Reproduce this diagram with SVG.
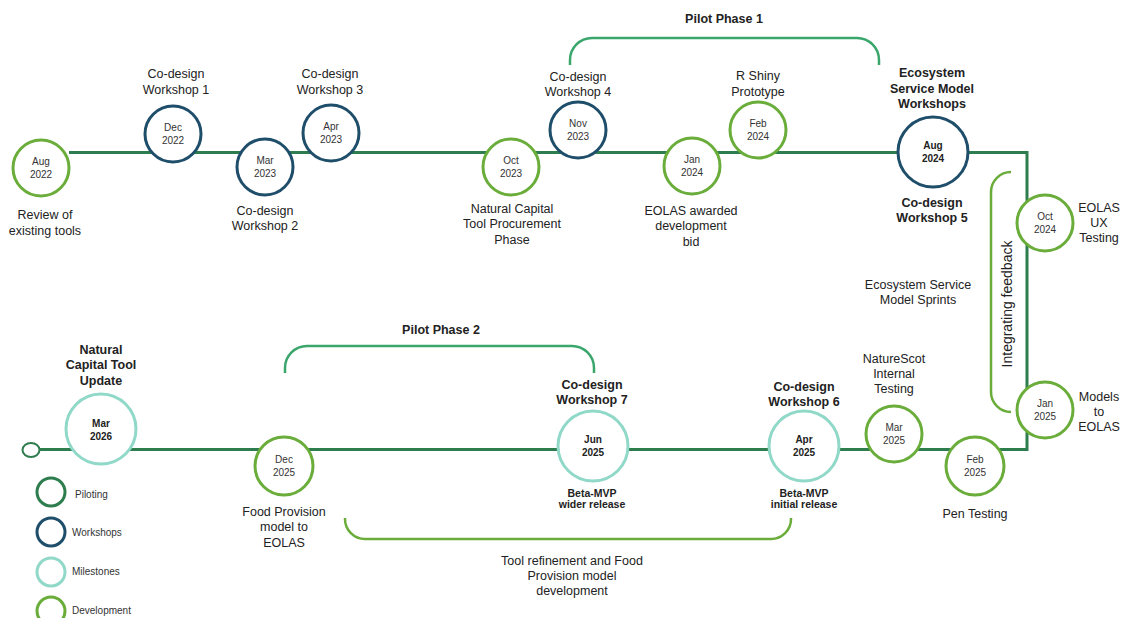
<svg xmlns="http://www.w3.org/2000/svg" width="1126" height="618" viewBox="0 0 1126 618">
  <style>
    text { font-family: "Liberation Sans", Arial, sans-serif; fill: #222; text-anchor: middle; }
    .lbl { font-size: 12.5px; }
    .bl { font-size: 12.5px; font-weight: bold; }
    .date { font-size: 10px; fill: #333; }
    .dateb { font-size: 10px; font-weight: bold; fill: #222; }
    .sub { font-size: 10.5px; font-weight: bold; }
    .leg { font-size: 10px; text-anchor: start; fill: #333; }
    .node { fill: #fff; stroke-width: 3; }
    .dev { stroke: #6aad3a; }
    .ws { stroke: #1f4e6b; }
    .ms { stroke: #90d8c8; }
    .pil { stroke: #2e7d4f; }
    .track { fill: none; stroke: #2e7d4f; stroke-width: 3; }
    .brk-pilot { fill: none; stroke: #3aa66c; stroke-width: 2.5; }
    .brk-dev { fill: none; stroke: #6aad3a; stroke-width: 2.5; }
  </style>

  <!-- timeline track and brackets -->
  <g id="connectors">
    <path class="track" d="M69,152.5 H1027 V449.5 H39"/>
    <path class="brk-pilot" d="M570,65 V60 A22,22 0 0 1 592,38 H857 A22,22 0 0 1 879,60 V65"/>
    <path class="brk-pilot" d="M285,373 V368 A22,22 0 0 1 307,346 H572 A22,22 0 0 1 594,368 V373"/>
    <path class="brk-dev" d="M345,518 V519 A20,20 0 0 0 365,539 H771 A20,20 0 0 0 791,519 V518"/>
    <path class="brk-dev" d="M1011,172 A20,20 0 0 0 991,192 V392 A20,20 0 0 0 1011,412"/>
  </g>

  <g id="start-cap">
    <ellipse cx="31" cy="450" rx="8.5" ry="7" fill="#fff" stroke="#2e7d4f" stroke-width="2"/>
  </g>

  <g id="aug-2022">
    <circle class="node dev" cx="41" cy="168" r="28"/>
    <text class="date" x="41" y="165">Aug</text>
    <text class="date" x="41" y="178">2022</text>
    <text class="lbl" x="45" y="219">Review of</text>
    <text class="lbl" x="45" y="235">existing tools</text>
  </g>

  <g id="dec-2022">
    <circle class="node ws" cx="173" cy="134" r="28"/>
    <text class="date" x="173" y="131">Dec</text>
    <text class="date" x="173" y="144">2022</text>
    <text class="lbl" x="176" y="78">Co-design</text>
    <text class="lbl" x="176" y="94">Workshop 1</text>
  </g>

  <g id="mar-2023">
    <circle class="node ws" cx="265" cy="167" r="28"/>
    <text class="date" x="265" y="164">Mar</text>
    <text class="date" x="265" y="177">2023</text>
    <text class="lbl" x="265" y="215">Co-design</text>
    <text class="lbl" x="265" y="230">Workshop 2</text>
  </g>

  <g id="apr-2023">
    <circle class="node ws" cx="331" cy="133" r="28"/>
    <text class="date" x="331" y="130">Apr</text>
    <text class="date" x="331" y="143">2023</text>
    <text class="lbl" x="330" y="78">Co-design</text>
    <text class="lbl" x="330" y="94">Workshop 3</text>
  </g>

  <g id="oct-2023">
    <circle class="node dev" cx="511" cy="167" r="28"/>
    <text class="date" x="511" y="164">Oct</text>
    <text class="date" x="511" y="177">2023</text>
    <text class="lbl" x="512" y="213">Natural Capital</text>
    <text class="lbl" x="512" y="228">Tool Procurement</text>
    <text class="lbl" x="512" y="244">Phase</text>
  </g>

  <g id="nov-2023">
    <circle class="node ws" cx="578" cy="130" r="28"/>
    <text class="date" x="578" y="127">Nov</text>
    <text class="date" x="578" y="140">2023</text>
    <text class="lbl" x="578" y="81">Co-design</text>
    <text class="lbl" x="578" y="96">Workshop 4</text>
  </g>

  <g id="jan-2024">
    <circle class="node dev" cx="692" cy="166" r="28"/>
    <text class="date" x="692" y="163">Jan</text>
    <text class="date" x="692" y="176">2024</text>
    <text class="lbl" x="691" y="215">EOLAS awarded</text>
    <text class="lbl" x="691" y="230">development</text>
    <text class="lbl" x="691" y="246">bid</text>
  </g>

  <g id="feb-2024">
    <circle class="node dev" cx="758" cy="130" r="28"/>
    <text class="date" x="758" y="127">Feb</text>
    <text class="date" x="758" y="140">2024</text>
    <text class="lbl" x="758" y="80">R Shiny</text>
    <text class="lbl" x="758" y="96">Prototype</text>
  </g>

  <g id="pilot-phase-1">
    <text class="bl" x="724" y="23">Pilot Phase 1</text>
  </g>

  <g id="aug-2024">
    <circle class="node ws" cx="933" cy="152" r="35"/>
    <text class="dateb" x="933" y="149">Aug</text>
    <text class="dateb" x="933" y="162">2024</text>
    <text class="bl" x="932" y="77">Ecosystem</text>
    <text class="bl" x="932" y="93">Service Model</text>
    <text class="bl" x="932" y="108">Workshops</text>
    <text class="bl" x="932" y="207">Co-design</text>
    <text class="bl" x="932" y="222">Workshop 5</text>
  </g>

  <g id="oct-2024">
    <circle class="node dev" cx="1045" cy="223" r="28"/>
    <text class="date" x="1045" y="220">Oct</text>
    <text class="date" x="1045" y="233">2024</text>
    <text class="lbl" x="1099" y="212">EOLAS</text>
    <text class="lbl" x="1099" y="227">UX</text>
    <text class="lbl" x="1099" y="242">Testing</text>
  </g>

  <g id="sprints">
    <text class="lbl" x="918" y="289">Ecosystem Service</text>
    <text class="lbl" x="918" y="304">Model Sprints</text>
  </g>

  <g id="integrating-feedback">
    <text transform="translate(1012,304) rotate(-90)" style="font-size:14px">Integrating feedback</text>
  </g>

  <g id="jan-2025">
    <circle class="node dev" cx="1045" cy="410" r="28"/>
    <text class="date" x="1045" y="407">Jan</text>
    <text class="date" x="1045" y="420">2025</text>
    <text class="lbl" x="1099" y="401">Models</text>
    <text class="lbl" x="1099" y="416">to</text>
    <text class="lbl" x="1099" y="431">EOLAS</text>
  </g>

  <g id="feb-2025">
    <circle class="node dev" cx="975" cy="466" r="29"/>
    <text class="date" x="975" y="463">Feb</text>
    <text class="date" x="975" y="476">2025</text>
    <text class="lbl" x="975" y="518">Pen Testing</text>
  </g>

  <g id="mar-2025">
    <circle class="node dev" cx="894" cy="434" r="28"/>
    <text class="date" x="894" y="431">Mar</text>
    <text class="date" x="894" y="444">2025</text>
    <text class="lbl" x="894" y="363">NatureScot</text>
    <text class="lbl" x="894" y="378">Internal</text>
    <text class="lbl" x="894" y="393">Testing</text>
  </g>

  <g id="apr-2025">
    <circle class="node ms" cx="804" cy="446" r="35"/>
    <text class="dateb" x="804" y="443">Apr</text>
    <text class="dateb" x="804" y="456">2025</text>
    <text class="bl" x="804" y="391">Co-design</text>
    <text class="bl" x="804" y="406">Workshop 6</text>
    <text class="sub" x="804" y="497">Beta-MVP</text>
    <text class="sub" x="804" y="508">initial release</text>
  </g>

  <g id="jun-2025">
    <circle class="node ms" cx="593" cy="446" r="35"/>
    <text class="dateb" x="593" y="443">Jun</text>
    <text class="dateb" x="593" y="456">2025</text>
    <text class="bl" x="592" y="389">Co-design</text>
    <text class="bl" x="592" y="404">Workshop 7</text>
    <text class="sub" x="592" y="497">Beta-MVP</text>
    <text class="sub" x="592" y="508">wider release</text>
  </g>

  <g id="pilot-phase-2">
    <text class="bl" x="441" y="334">Pilot Phase 2</text>
  </g>

  <g id="tool-refinement">
    <text class="lbl" x="572" y="565">Tool refinement and Food</text>
    <text class="lbl" x="572" y="580">Provision model</text>
    <text class="lbl" x="572" y="595">development</text>
  </g>

  <g id="dec-2025">
    <circle class="node dev" cx="284" cy="466" r="29"/>
    <text class="date" x="284" y="463">Dec</text>
    <text class="date" x="284" y="476">2025</text>
    <text class="lbl" x="284" y="516">Food Provision</text>
    <text class="lbl" x="284" y="531">model to</text>
    <text class="lbl" x="284" y="547">EOLAS</text>
  </g>

  <g id="mar-2026">
    <circle class="node ms" cx="101" cy="429" r="35"/>
    <text class="dateb" x="101" y="427">Mar</text>
    <text class="dateb" x="101" y="440">2026</text>
    <text class="bl" x="101" y="354">Natural</text>
    <text class="bl" x="101" y="369">Capital Tool</text>
    <text class="bl" x="101" y="385">Update</text>
  </g>

  <g id="legend">
    <circle class="node pil" cx="51" cy="492" r="14"/>
    <text class="leg" x="75" y="498">Piloting</text>
    <circle class="node ws" cx="51" cy="532" r="14"/>
    <text class="leg" x="72" y="536">Workshops</text>
    <circle class="node ms" cx="51" cy="572" r="14"/>
    <text class="leg" x="72" y="575">Milestones</text>
    <circle class="node dev" cx="51" cy="611" r="14"/>
    <text class="leg" x="72" y="614">Development</text>
  </g>
</svg>
